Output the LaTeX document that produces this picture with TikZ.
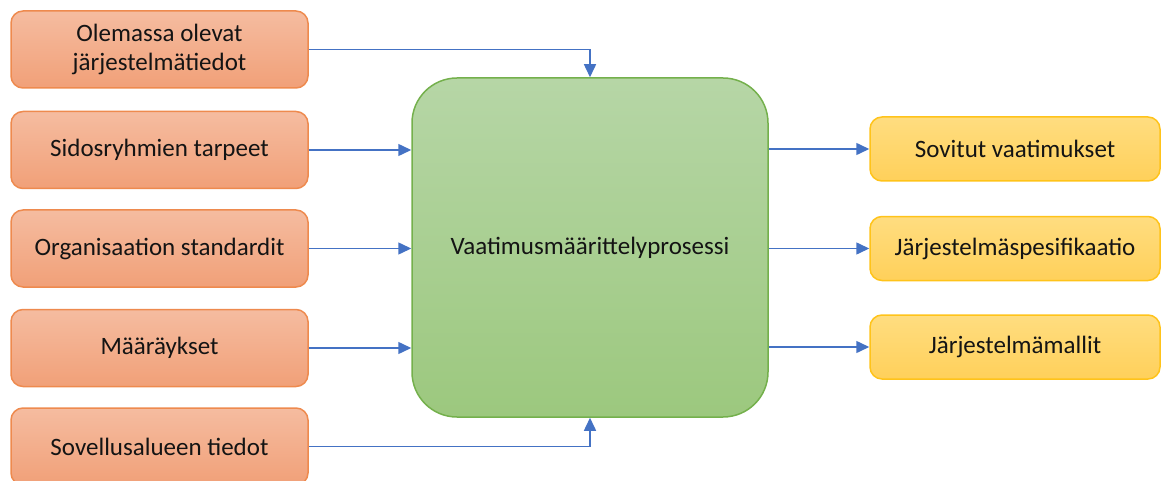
\documentclass[tikz,border=0pt]{standalone}
\usepackage{fontspec}
\setmainfont{Carlito}
\usetikzlibrary{arrows.meta}
\definecolor{inFillTop}{HTML}{F5BCA0}
\definecolor{inFillBot}{HTML}{F1A078}
\definecolor{inLine}{HTML}{EE8A4E}
\definecolor{procTop}{HTML}{B6D6A6}
\definecolor{procBot}{HTML}{9CC87E}
\definecolor{procLine}{HTML}{74B04C}
\definecolor{outTop}{HTML}{FFDD80}
\definecolor{outBot}{HTML}{FFD05A}
\definecolor{outLine}{HTML}{FFC31A}
\definecolor{flow}{HTML}{4472C4}
\definecolor{ink}{HTML}{141414}
\tikzset{
  label text/.style={text=ink, font=\fontsize{25}{29}\selectfont, inner sep=0pt},
  inbox/.style={label text, draw=inLine, line width=1.5pt, top color=inFillTop, bottom color=inFillBot,
    rounded corners=12pt, minimum width=297pt, minimum height=77pt, align=center},
  outbox/.style={label text, draw=outLine, line width=1.5pt, top color=outTop, bottom color=outBot,
    rounded corners=12pt, minimum width=290pt, minimum height=64pt, align=center},
  procbox/.style={label text, draw=procLine, line width=1.5pt, top color=procTop, bottom color=procBot,
    rounded corners=45pt, minimum width=356pt, minimum height=339pt},
  flowline/.style={draw=flow, line width=1.5pt, -{Triangle[length=13pt,width=12pt]}}
}
\begin{document}
\begin{tikzpicture}[x=1pt, y=-1pt]
  \useasboundingbox (0,0) rectangle (1164,481);
  % inputs
  \node[inbox] (olemassa) at (159.5,49.5) {Olemassa olevat\\järjestelmätiedot};
  \node[inbox] (sidos) at (159.5,150) {Sidosryhmien tarpeet};
  \node[inbox] (org) at (159.5,248.5) {Organisaation standardit};
  \node[inbox] (maar) at (159.5,348) {Määräykset};
  \node[inbox] (sovellus) at (159.5,446.5) {Sovellusalueen tiedot};
  % process
  \node[procbox] (proc) at (590,247.5) {Vaatimusmäärittelyprosessi};
  % outputs
  \node[outbox] (sovitut) at (1015,149) {Sovitut vaatimukset};
  \node[outbox] (spes) at (1015,248.5) {Järjestelmäspesifikaatio};
  \node[outbox] (mallit) at (1015,347) {Järjestelmämallit};
  % connectors
  \draw[flowline] (olemassa.east) -| (proc.north);
  \draw[flowline] (sidos.east) -- (sidos.east -| proc.west);
  \draw[flowline] (org.east) -- (org.east -| proc.west);
  \draw[flowline] (maar.east) -- (maar.east -| proc.west);
  \draw[flowline] (sovellus.east) -| (proc.south);
  \draw[flowline] (proc.east |- sovitut.west) -- (sovitut.west);
  \draw[flowline] (proc.east |- spes.west) -- (spes.west);
  \draw[flowline] (proc.east |- mallit.west) -- (mallit.west);
\end{tikzpicture}
\end{document}
